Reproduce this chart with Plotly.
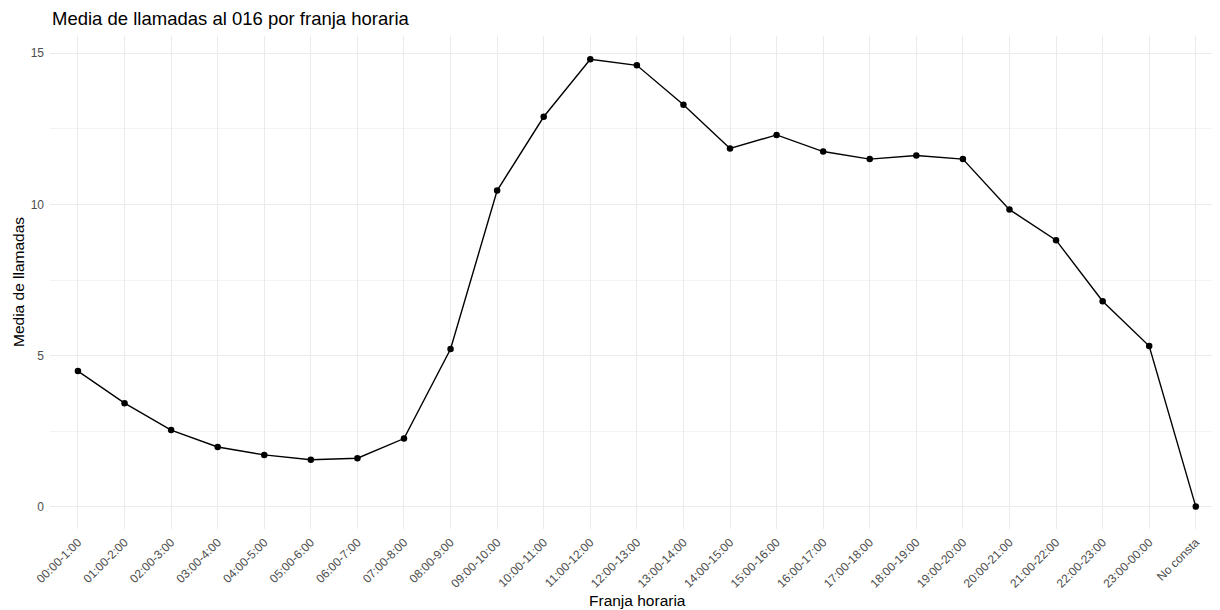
import plotly.graph_objects as go

franjas = ["00:00-1:00", "01:00-2:00", "02:00-3:00", "03:00-4:00", "04:00-5:00",
           "05:00-6:00", "06:00-7:00", "07:00-8:00", "08:00-9:00", "09:00-10:00",
           "10:00-11:00", "11:00-12:00", "12:00-13:00", "13:00-14:00", "14:00-15:00",
           "15:00-16:00", "16:00-17:00", "17:00-18:00", "18:00-19:00", "19:00-20:00",
           "20:00-21:00", "21:00-22:00", "22:00-23:00", "23:00-00:00", "No consta"]
media = [4.49, 3.43, 2.54, 1.98, 1.72, 1.56, 1.61, 2.26, 5.22, 10.46,
         12.9, 14.8, 14.6, 13.3, 11.85, 12.3, 11.75, 11.5, 11.62, 11.5,
         9.83, 8.82, 6.8, 5.32, 0.01]
y_ticks = [0, 5, 10, 15]

# The page body adds an 8px margin; the figure is sized to fit the window.
W, H = 1212, 602
L, R, T, B = 42, 0, 28, 81
PW, PH = W - L - R, H - T - B

fig = go.Figure()
fig.add_trace(go.Scatter(
    x=franjas, y=media, mode="lines+markers",
    line=dict(color="black", width=1.4),
    marker=dict(color="black", size=6.5),
    showlegend=False,
))

fig.update_layout(
    width=W, height=H,
    paper_bgcolor="white", plot_bgcolor="white",
    margin=dict(l=L, r=R, t=T, b=B, autoexpand=False),
    font=dict(family="Liberation Sans, Arial, sans-serif"),
    title=dict(text="Media de llamadas al 016 por franja horaria",
               x=44 / W, xanchor="left", xref="container",
               y=1 - 11 / H, yanchor="middle", yref="container",
               font=dict(size=18.5, color="black")),
    annotations=[
        dict(text="Franja horaria", xref="paper", yref="paper",
             x=(629.5 - L) / PW, y=-(592 - (H - B)) / PH,
             xanchor="center", yanchor="middle",
             showarrow=False, font=dict(size=15.5, color="black")),
        dict(text="Media de llamadas", xref="paper", yref="paper",
             x=-(L - 10) / PW, y=1 - (274 - T) / PH,
             xanchor="center", yanchor="middle",
             textangle=-90, showarrow=False, font=dict(size=15.5, color="black")),
    ],
)
fig.update_xaxes(
    type="category", range=[-0.6, len(franjas) - 0.48],
    showgrid=True, gridcolor="#ebebeb", gridwidth=1.4,
    tickangle=-45, tickfont=dict(size=12, color="#4d4d4d"),
    ticklabelstandoff=3,
    ticks="", showline=False, zeroline=False, automargin=False,
)
fig.update_yaxes(
    range=[-0.73, 15.57], tickvals=y_ticks,
    showgrid=True, gridcolor="#ebebeb", gridwidth=1.4,
    minor=dict(tickvals=[2.5, 7.5, 12.5], showgrid=True, gridcolor="#f3f3f3", gridwidth=1),
    tickfont=dict(size=12, color="#4d4d4d"),
    ticklabelstandoff=5,
    ticks="", showline=False, zeroline=False, automargin=False,
)

fig.write_html("out.html")
